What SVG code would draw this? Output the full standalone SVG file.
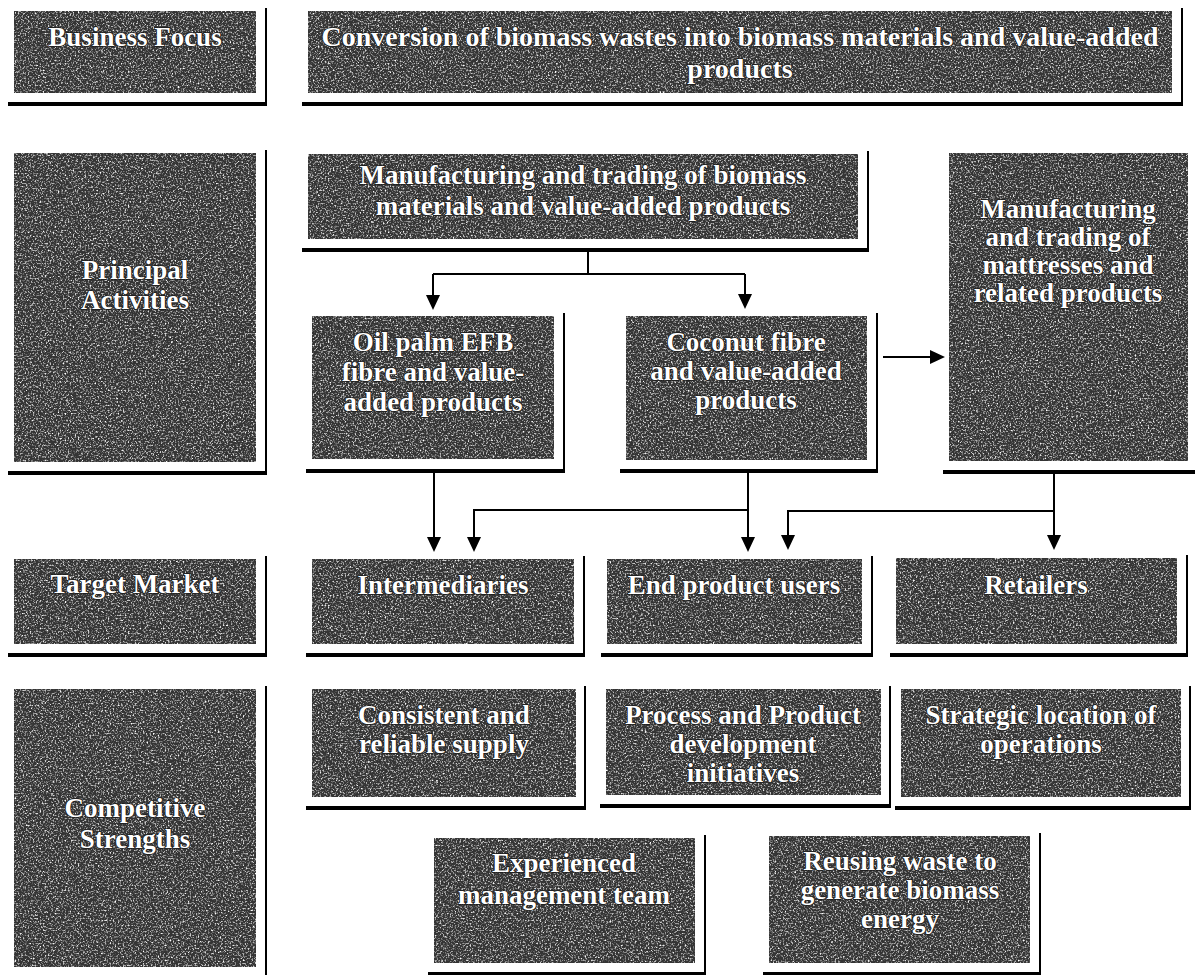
<svg xmlns="http://www.w3.org/2000/svg" width="1195" height="975" viewBox="0 0 1195 975">
  <defs>
    <!-- speckled grey fill used by every panel -->
    <filter id="grain" x="0" y="0" width="1" height="1" color-interpolation-filters="sRGB">
      <feTurbulence type="fractalNoise" baseFrequency="0.6" numOctaves="2" seed="7" result="noise"/>
      <feColorMatrix in="noise" type="matrix" values="0 0 0 0 1  0 0 0 0 1  0 0 0 0 1  3 0 0 0 -1.47" result="specks"/>
      <feComposite in="specks" in2="SourceGraphic" operator="in" result="clipped"/>
      <feMerge>
        <feMergeNode in="SourceGraphic"/>
        <feMergeNode in="clipped"/>
      </feMerge>
    </filter>
    <marker id="arrow" viewBox="0 0 15 14" refX="11" refY="7" markerWidth="15" markerHeight="14" markerUnits="userSpaceOnUse" orient="auto">
      <path d="M0,0 L15,7 L0,14 Z" fill="#000"/>
    </marker>
    <style>
      .panel { fill: #343434; filter: url(#grain); }
      .edge-r { stroke: #000; stroke-width: 2; fill: none; }
      .edge-b { stroke: #000; stroke-width: 4; fill: none; }
      .t { font-family: "Liberation Serif", "Times New Roman", serif; font-weight: bold; font-size: 27px;
           fill: #fff; stroke: #1a1a1a; stroke-width: 1.6; stroke-linejoin: round; paint-order: stroke fill; text-anchor: middle; }
      .link { stroke: #000; stroke-width: 2; fill: none; }
      .arr { marker-end: url(#arrow); }
    </style>
  </defs>

  <rect width="1195" height="975" fill="#fff"/>

  <!-- row labels -->
  <g id="label-focus">
    <rect class="panel" x="14" y="11" width="242" height="82"/>
    <path class="edge-r" d="M266,8 V106"/>
    <path class="edge-b" d="M8,104 H266"/>
    <text class="t" x="135" y="46">Business Focus</text>
  </g>
  <g id="label-activities">
    <rect class="panel" x="14" y="153" width="242" height="309"/>
    <path class="edge-r" d="M266,150 V475"/>
    <path class="edge-b" d="M8,473 H266"/>
    <text class="t" x="135" y="279">Principal</text>
    <text class="t" x="135" y="309">Activities</text>
  </g>
  <g id="label-market">
    <rect class="panel" x="14" y="559" width="242" height="85"/>
    <path class="edge-r" d="M266,556 V657"/>
    <path class="edge-b" d="M8,655 H266"/>
    <text class="t" x="135" y="593">Target Market</text>
  </g>
  <g id="label-strengths">
    <rect class="panel" x="14" y="689" width="242" height="278"/>
    <path class="edge-r" d="M266,686 V975"/>
    <text class="t" x="135" y="817">Competitive</text>
    <text class="t" x="135" y="848">Strengths</text>
  </g>

  <!-- business focus -->
  <g id="focus">
    <rect class="panel" x="308" y="11" width="864" height="82"/>
    <path class="edge-r" d="M1182,8 V106"/>
    <path class="edge-b" d="M302,104 H1182"/>
    <text class="t" x="740" y="46" style="font-size:28px">Conversion of biomass wastes into biomass materials and value-added</text>
    <text class="t" x="740" y="78" style="font-size:28px">products</text>
  </g>

  <!-- principal activities -->
  <g id="biomass-trading">
    <rect class="panel" x="308" y="154" width="550" height="85"/>
    <path class="edge-r" d="M868,151 V252"/>
    <path class="edge-b" d="M302,250 H868"/>
    <text class="t" x="583" y="184">Manufacturing and trading of biomass</text>
    <text class="t" x="583" y="215">materials and value-added products</text>
  </g>
  <g id="mattress-trading">
    <rect class="panel" x="949" y="153" width="239" height="308"/>
    <path class="edge-b" d="M943,472 H1195"/>
    <text class="t" x="1068" y="218">Manufacturing</text>
    <text class="t" x="1068" y="246">and trading of</text>
    <text class="t" x="1068" y="274">mattresses and</text>
    <text class="t" x="1068" y="302">related products</text>
  </g>
  <g id="oil-palm">
    <rect class="panel" x="312" y="316" width="242" height="143"/>
    <path class="edge-r" d="M564,313 V473"/>
    <path class="edge-b" d="M306,471 H564"/>
    <text class="t" x="433" y="351">Oil palm EFB</text>
    <text class="t" x="433" y="381">fibre and value-</text>
    <text class="t" x="433" y="411">added products</text>
  </g>
  <g id="coconut">
    <rect class="panel" x="626" y="316" width="241" height="144"/>
    <path class="edge-r" d="M877,313 V473"/>
    <path class="edge-b" d="M620,471 H877"/>
    <text class="t" x="746" y="351">Coconut fibre</text>
    <text class="t" x="746" y="380">and value-added</text>
    <text class="t" x="746" y="409">products</text>
  </g>

  <!-- target market -->
  <g id="intermediaries">
    <rect class="panel" x="312" y="559" width="262" height="85"/>
    <path class="edge-r" d="M584,556 V657"/>
    <path class="edge-b" d="M306,655 H584"/>
    <text class="t" x="443" y="594">Intermediaries</text>
  </g>
  <g id="end-users">
    <rect class="panel" x="607" y="559" width="255" height="85"/>
    <path class="edge-r" d="M872,556 V657"/>
    <path class="edge-b" d="M601,655 H872"/>
    <text class="t" x="734" y="594">End product users</text>
  </g>
  <g id="retailers">
    <rect class="panel" x="896" y="558" width="281" height="86"/>
    <path class="edge-r" d="M1187,555 V657"/>
    <path class="edge-b" d="M890,655 H1187"/>
    <text class="t" x="1036" y="594">Retailers</text>
  </g>

  <!-- competitive strengths -->
  <g id="supply">
    <rect class="panel" x="312" y="689" width="264" height="108"/>
    <path class="edge-r" d="M585,686 V810"/>
    <path class="edge-b" d="M306,808 H585"/>
    <text class="t" x="444" y="724">Consistent and</text>
    <text class="t" x="444" y="753">reliable supply</text>
  </g>
  <g id="development">
    <rect class="panel" x="606" y="689" width="275" height="106"/>
    <path class="edge-r" d="M890,686 V808"/>
    <path class="edge-b" d="M600,806 H890"/>
    <text class="t" x="743" y="724">Process and Product</text>
    <text class="t" x="743" y="753">development</text>
    <text class="t" x="743" y="782">initiatives</text>
  </g>
  <g id="location">
    <rect class="panel" x="901" y="689" width="280" height="108"/>
    <path class="edge-r" d="M1190,686 V810"/>
    <path class="edge-b" d="M895,808 H1190"/>
    <text class="t" x="1041" y="724">Strategic location of</text>
    <text class="t" x="1041" y="753">operations</text>
  </g>
  <g id="management">
    <rect class="panel" x="434" y="838" width="261" height="125"/>
    <path class="edge-r" d="M705,835 V975"/>
    <path class="edge-b" d="M428,974 H705"/>
    <text class="t" x="564" y="872">Experienced</text>
    <text class="t" x="564" y="904">management team</text>
  </g>
  <g id="energy">
    <rect class="panel" x="769" y="836" width="261" height="127"/>
    <path class="edge-r" d="M1040,833 V975"/>
    <path class="edge-b" d="M763,974 H1040"/>
    <text class="t" x="900" y="870">Reusing waste to</text>
    <text class="t" x="900" y="899">generate biomass</text>
    <text class="t" x="900" y="928">energy</text>
  </g>

  <!-- connectors -->
  <g id="connectors">
    <path class="link" d="M588,252 V274 M433,274 H745"/>
    <path class="link arr" d="M433,274 V306"/>
    <path class="link arr" d="M745,274 V305"/>
    <path class="link arr" d="M883,357 H941"/>
    <path class="link arr" d="M434,473 V548"/>
    <path class="link arr" d="M748,473 V548"/>
    <path class="link arr" d="M748,510 H474 V548"/>
    <path class="link arr" d="M1054,474 V546"/>
    <path class="link arr" d="M1054,511 H788 V546"/>
  </g>
</svg>
